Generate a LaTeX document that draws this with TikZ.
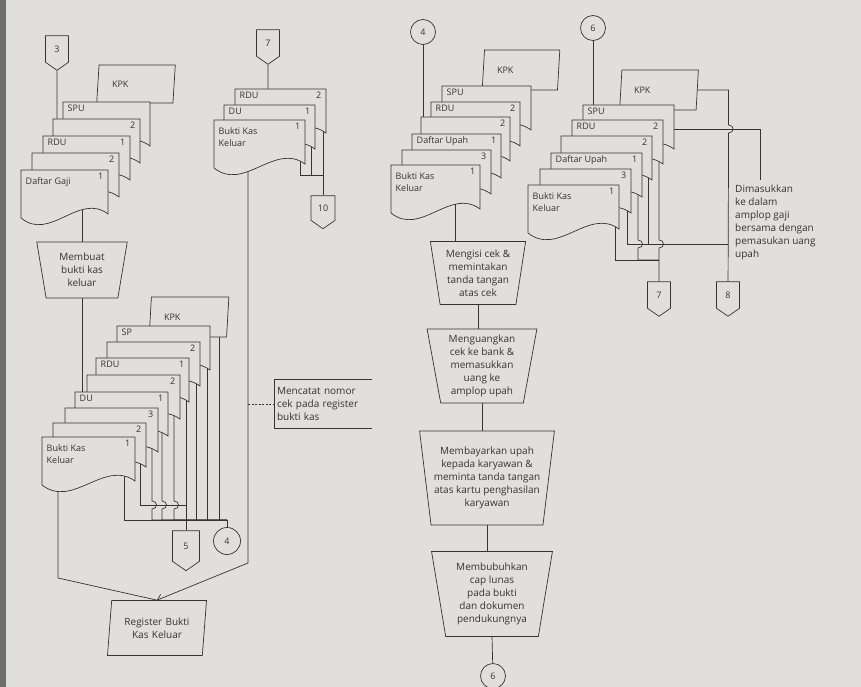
\documentclass[tikz,border=0pt]{standalone}
\usepackage{fontspec}
\setmainfont{Open Sans}
\usetikzlibrary{shapes.geometric,shapes.symbols,calc,arrows.meta}

\definecolor{kertas}{RGB}{224,223,220}
\definecolor{tinta}{RGB}{52,52,52}
\definecolor{tepi}{RGB}{110,110,110}

\newcommand{\teks}{\fontsize{10}{13}\selectfont}
\newcommand{\tekskecil}{\fontsize{9}{11.5}\selectfont}
\newcommand{\lompat}{.. controls +(6,0) and +(6,0) ..}

% dokumen: [label style]{name}{x}{y}{width}{label}{number}
\newcommand{\dok}[7][]{%
  \filldraw[dok] (#3,#4) -- ++(#5,0) -- ++(0,44)
    .. controls +({-#5/3},-22) and +({#5/3},24) .. (#3,{#4+48}) -- cycle;
  \coordinate (#2) at ({#3+#5},#4);
  \node[doklabel,#1] (#2-l) at ({#3+3},{#4+1}) {#6};
  \node[doknum] (#2-n) at ({#3+#5-3},{#4+1}) {#7};
}

\pgfdeclarelayer{latar}
\pgfdeclarelayer{garisan}
\pgfsetlayers{latar,garisan,main}

\tikzset{
  garis/.style={draw=tinta, line width=0.7pt},
  dok/.style={draw=tinta, fill=kertas, line width=0.7pt},
  doklabel/.style={anchor=north west, inner sep=1.5pt, align=left, text=tinta, font=\tekskecil},
  turun/.style={yshift=-5pt},
  doknum/.style={anchor=north east, inner sep=1.5pt, text=tinta, font=\tekskecil},
  kartu/.style={trapezium, trapezium left angle=81, trapezium right angle=99,
    trapezium stretches=true, draw=tinta, fill=kertas, line width=0.7pt,
    text=tinta, font=\tekskecil, align=left, inner sep=2pt},
  manual/.style={trapezium, trapezium angle=80, shape border rotate=180,
    trapezium stretches=true, draw=tinta, fill=kertas, line width=0.7pt,
    align=center, text=tinta, font=\teks, inner sep=0pt},
  offpage/.style={signal, signal to=south, signal from=nowhere, signal pointer angle=110,
    draw=tinta, fill=kertas, line width=0.7pt, minimum width=23, minimum height=29,
    inner sep=1pt, text=tinta, font=\tekskecil},
  onpage/.style={circle, draw=tinta, fill=kertas, line width=0.7pt, minimum size=25,
    inner sep=0pt, text=tinta, font=\tekskecil},
  catatan/.style={align=left, text=tinta, font=\teks, inner sep=2pt}
}

\begin{document}
\begin{tikzpicture}[x=1pt,y=-1pt]
\begin{pgfonlayer}{latar}
  \fill[kertas] (0,0) rectangle (861,687);
  \fill[tepi] (0,0) rectangle (6,687);
\end{pgfonlayer}
\useasboundingbox (0,0) rectangle (861,687);

% kolom kiri atas
\node[offpage] (k3) at (57,49) {3};
\node[kartu, minimum width=79, minimum height=38, text width=48] (a6) at (136,84) {KPK};
\dok{a5}{63}{102}{87}{SPU}{}
\dok{a4}{53}{119}{87}{}{2}
\dok{a3}{43}{136}{87}{RDU}{1}
\dok{a2}{32}{153}{87}{}{2}
\dok[turun]{a1}{21}{170}{87}{Daftar Gaji}{1}
\node[manual, minimum width=91, minimum height=56] (p1) at (82,270) {Membuat\\bukti kas\\keluar};

% kolom kiri bawah
\node[kartu, minimum width=80, minimum height=40, text width=50] (b9) at (189,317) {KPK};
\dok{b8}{117}{326}{93}{SP}{}
\dok{b7}{107}{342}{93}{}{2}
\dok{b6}{96}{358}{93}{RDU}{1}
\dok{b5}{87}{375}{93}{}{2}
\dok{b4}{75}{392}{93}{DU}{1}
\dok{b3}{65}{408}{93}{}{3}
\dok{b2}{53}{423}{93}{}{2}
\dok[turun]{b1}{42}{437}{93}{Bukti Kas\\Keluar}{1}
\node[offpage, minimum width=27, minimum height=33] (k5) at (186,546) {5};
\node[onpage, minimum size=27] (k4) at (227,541) {4};
\node[kartu, minimum width=100, minimum height=55, text width=80, align=center, font=\teks] (reg) at (157,628) {Register Bukti\\Kas Keluar};
\node[catatan, minimum width=97, minimum height=48, text width=92] (an1) at (323,404) {Mencatat nomor\\cek pada register\\bukti kas};

% kolom tengah atas
\node[offpage] (k7) at (268,43) {7};
\dok{c3}{235}{89}{91}{RDU}{2}
\dok{c2}{224}{105}{91}{DU}{1}
\dok[turun]{c1}{214}{120}{91}{Bukti Kas\\Keluar}{1}
\node[offpage, minimum width=24] (k10) at (323,208) {10};

% kolom tengah
\node[onpage] (k4b) at (423,32) {4};
\node[kartu, minimum width=78, minimum height=40, text width=48] (d7) at (521,70) {KPK};
\dok{d6}{442}{86}{89}{SPU}{}
\dok{d5}{431}{102}{89}{RDU}{2}
\dok{d4}{421}{117}{89}{}{2}
\dok{d3}{412}{134}{89}{Daftar Upah}{1}
\dok{d2}{402}{150}{89}{}{3}
\dok[turun]{d1}{391}{165}{89}{Bukti Kas\\Keluar}{1}
\node[manual, minimum width=96, minimum height=63] (p2) at (478,273) {Mengisi cek \&\\memintakan\\tanda tangan\\atas cek};
\node[manual, minimum width=110, minimum height=74] (p3) at (482,366) {Menguangkan\\cek ke bank \&\\memasukkan\\uang ke\\amplop upah};
\node[manual, minimum width=135, minimum height=94] (p4) at (487,478) {Membayarkan upah\\kepada karyawan \&\\meminta tanda tangan\\atas kartu penghasilan\\karyawan};
\node[manual, minimum width=121, minimum height=85] (p5) at (492,594) {Membubuhkan\\cap lunas\\pada bukti\\dan dokumen\\pendukungnya};
\node[onpage] (k6b) at (493,676) {6};

% kolom kanan
\node[onpage] (k6) at (593,28) {6};
\node[kartu, minimum width=79, minimum height=40, text width=50] (e7) at (659,90) {KPK};
\dok{e6}{583}{105}{91}{SPU}{}
\dok{e5}{572}{120}{91}{RDU}{2}
\dok{e4}{561}{136}{91}{}{2}
\dok{e3}{551}{153}{91}{Daftar Upah}{1}
\dok{e2}{540}{169}{91}{}{3}
\dok[turun]{e1}{528}{185}{91}{Bukti Kas\\Keluar}{1}
\node[offpage] (k7b) at (659,295) {7};
\node[offpage] (k8) at (728,295) {8};
\node[catatan, anchor=north west] (an2) at (733,183) {Dimasukkan\\ke dalam\\amplop gaji\\bersama dengan\\pemasukan uang\\upah};

\coordinate (j5) at (186,505);
\coordinate (j4) at (227,520);
\coordinate (r1) at (58,578);
\coordinate (r2) at (248,563);
\coordinate (j10) at (323,175);
\coordinate (d1b) at ($(d1)+(-25,30)$);
\coordinate (j8) at (728,244);
\coordinate (j7) at (659,260);
\coordinate (j9) at (760,180);

\begin{pgfonlayer}{garisan}
  \draw[garis] (k3) -- ++(0,90);
  \draw[garis] (p1.north) -- ++(0,-45);
  \draw[garis] (p1.south) -- ++(0,110);
  % ke register
  \draw[garis] ($(b1)+(-77,30)$) -- (r1) -- (reg.north);
  \draw[garis, -{Straight Barb[length=5pt,width=8pt]}] ($(c1)+(-57,30)$) -- (r2) -- (reg.north);
  \draw[garis, dash pattern=on 2pt off 1.5pt] (an1.west -| r2) -- (an1.west);
  \draw[garis] (an1.north east) -- (an1.north west) -- (an1.south west) -- (an1.south east);
  % ke 4 dan 5
  \draw[garis] ($(b1)+(-11,30)$) |- (j4) -- (k4);
  \draw[garis] ($(b2)+(-6,30)$) |- (j5);
  \draw[garis] ($(b6)+(-3,30)$) -- (k5);
  \draw[garis] ($(b3)+(-6,30)$) -- ++(0,63) \lompat ++(0,8) |- (j4);
  \draw[garis] ($(b4)+(-6,30)$) -- ++(0,79) \lompat ++(0,8) |- (j4);
  \draw[garis] ($(b5)+(-6,30)$) -- ++(0,96) \lompat ++(0,8) |- (j4);
  \draw[garis] ($(b7)+(-4,30)$) |- (j4);
  \draw[garis] ($(b8)+(-3,30)$) |- (j4);
  \draw[garis] ($(b9.south)+(30,-5)$) |- (j4);
  % ke 10
  \draw[garis] (k7) -- ++(0,60);
  \draw[garis] ($(c1)+(-5,30)$) |- (j10);
  \draw[garis] ($(c2)+(-4,30)$) |- (j10);
  \draw[garis] ($(c3)+(-3,30)$) -- (k10);
  % kolom tengah
  \draw[garis] (k4b) -- ++(0,95);
  \draw[garis] (d1b) -- (d1b |- p2.north);
  \draw[garis] (p2.south) -- (p2.south |- p3.north);
  \draw[garis] (p3.south) -- (p3.south |- p4.north);
  \draw[garis] (p4.south) -- (p4.south |- p5.north);
  \draw[garis] (p5.south) -- (k6b);
  % kolom kanan
  \draw[garis] (k6) -- ++(0,100);
  \draw[garis] (e7.east) -- ++(31,0) -- ++(0,35) \lompat ++(0,8) -- (k8);
  \draw[garis] ($(e6)+(0,24)$) -| (j9);
  \draw[garis] ($(e2)+(-4,30)$) |- (j8);
  \draw[garis] ($(e4)+(-4,30)$) |- (j8);
  \draw[garis] ($(e1)+(-4,30)$) |- (j7);
  \draw[garis] ($(e3)+(-4,30)$) -- ++(0,57) \lompat ++(0,8) |- (j7);
  \draw[garis] ($(e5)+(-4,30)$) -- ++(0,90) \lompat ++(0,8) -- (k7b);
\end{pgfonlayer}
\end{tikzpicture}
\end{document}
